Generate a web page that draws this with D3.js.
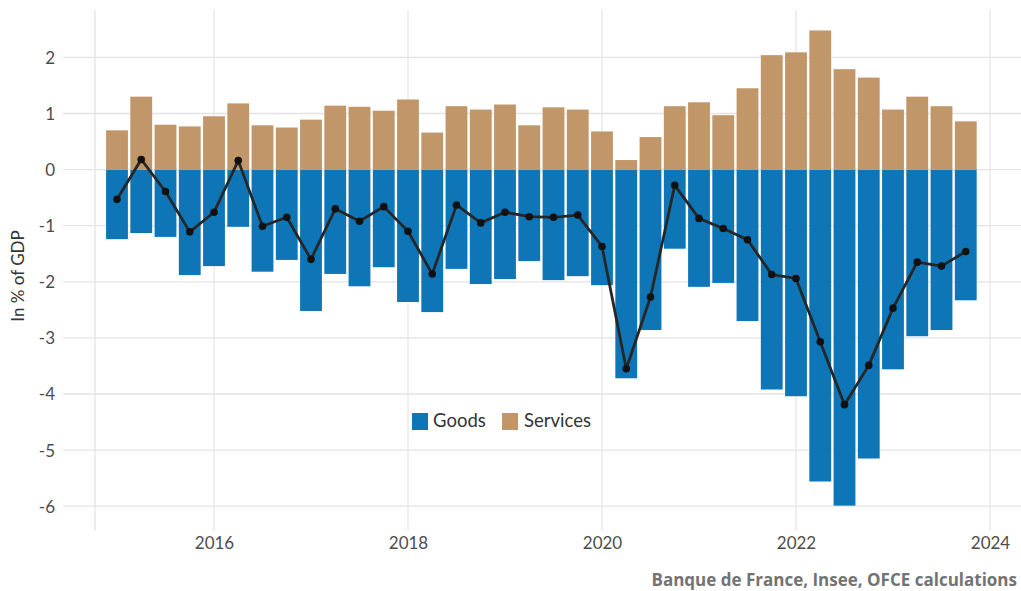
<!DOCTYPE html>
<html>
<head>
<meta charset="utf-8">
<script src="https://cdn.jsdelivr.net/npm/d3@7"></script>
<style>
  html, body { margin: 0; padding: 0; background: #fff; }
  svg { display: block; }
</style>
</head>
<body>
<svg id="chart" width="1021" height="591"></svg>
<script>
// Quarters 2015Q1 .. 2023Q4
const startYear = 2015;
const goods = [-1.24,-1.13,-1.20,-1.88,-1.72,-1.02,-1.82,-1.61,-2.52,-1.86,-2.08,-1.74,
               -2.36,-2.54,-1.77,-2.04,-1.95,-1.63,-1.97,-1.90,-2.06,-3.72,-2.86,-1.41,
               -2.09,-2.02,-2.70,-3.92,-4.04,-5.56,-5.99,-5.15,-3.56,-2.97,-2.86,-2.33];
const services = [0.70,1.30,0.80,0.77,0.95,1.18,0.79,0.75,0.89,1.14,1.12,1.05,
                  1.25,0.66,1.13,1.07,1.16,0.79,1.11,1.07,0.68,0.17,0.58,1.13,
                  1.20,0.97,1.45,2.04,2.09,2.48,1.79,1.64,1.07,1.30,1.13,0.86];
const balance = [-0.53,0.18,-0.39,-1.11,-0.76,0.16,-1.01,-0.85,-1.60,-0.70,-0.92,-0.66,
                 -1.10,-1.86,-0.63,-0.95,-0.76,-0.84,-0.85,-0.81,-1.37,-3.55,-2.27,-0.28,
                 -0.87,-1.05,-1.25,-1.87,-1.94,-3.07,-4.19,-3.49,-2.47,-1.65,-1.72,-1.46];
const xTicks = [2016, 2018, 2020, 2022, 2024];
const yTicks = [-6, -5, -4, -3, -2, -1, 0, 1, 2];
const seriesNames = ["Goods", "Services"];
const seriesColors = ["#0e76b7", "#c19669"];

const times = goods.map((_, i) => startYear + i / 4);

const svg = d3.select("#chart");
const x = d3.scaleLinear().domain([2016, 2024]).range([214, 990]);
const y = d3.scaleLinear().domain([-6, 2]).range([506.2, 57.4]);
const barW = (x(2016.25) - x(2016)) * 0.9;

const panelTop = 10, panelBottom = 531, panelLeft = 95, panelRight = 1021;
const gridColor = "#e3e3e3";

// horizontal grid
svg.append("g").selectAll("line").data(yTicks).join("line")
  .attr("x1", 63).attr("x2", panelRight)
  .attr("y1", d => y(d)).attr("y2", d => y(d))
  .attr("stroke", gridColor).attr("stroke-width", 1.3);

// vertical grid
svg.append("g").selectAll("line").data(xTicks).join("line")
  .attr("x1", d => x(d)).attr("x2", d => x(d))
  .attr("y1", panelTop).attr("y2", panelBottom)
  .attr("stroke", "#e8e8e8").attr("stroke-width", 1.4);
svg.append("line")
  .attr("x1", panelLeft).attr("x2", panelLeft)
  .attr("y1", panelTop).attr("y2", panelBottom)
  .attr("stroke", gridColor).attr("stroke-width", 1.3);

// bars
svg.append("g").selectAll("rect").data(goods).join("rect")
  .attr("x", (d, i) => x(times[i]) - barW / 2)
  .attr("width", barW)
  .attr("y", d => y(0))
  .attr("height", d => y(d) - y(0))
  .attr("fill", seriesColors[0]);
svg.append("g").selectAll("rect").data(services).join("rect")
  .attr("x", (d, i) => x(times[i]) - barW / 2)
  .attr("width", barW)
  .attr("y", d => y(d))
  .attr("height", d => y(0) - y(d))
  .attr("fill", seriesColors[1]);

// balance line
const line = d3.line().x((d, i) => x(times[i])).y(d => y(d));
svg.append("path").datum(balance)
  .attr("d", line)
  .attr("fill", "none")
  .attr("stroke", "#262626")
  .attr("stroke-width", 2.8)
  .attr("stroke-linejoin", "round");
svg.append("g").selectAll("circle").data(balance).join("circle")
  .attr("cx", (d, i) => x(times[i]))
  .attr("cy", d => y(d))
  .attr("r", 3.8)
  .attr("fill", "#111");

// y axis labels
const yAxis = d3.axisLeft(y).tickValues(yTicks).tickSize(0).tickPadding(0)
  .tickFormat(d => d < 0 ? "-" + Math.abs(d) : String(d));
const gy = svg.append("g").attr("transform", "translate(55,0)").call(yAxis);
gy.select(".domain").remove();
gy.selectAll("text")
  .attr("font-family", "Lato, sans-serif").attr("font-size", 17)
  .attr("fill", "#4d4d4d").attr("dy", "0.35em");

// x axis labels
const xAxis = d3.axisBottom(x).tickValues(xTicks).tickSize(0).tickPadding(0)
  .tickFormat(d3.format("d"));
const gx = svg.append("g").attr("transform", "translate(0,537)").call(xAxis);
gx.select(".domain").remove();
gx.selectAll("text")
  .attr("font-family", "Lato, sans-serif").attr("font-size", 17)
  .attr("fill", "#4d4d4d").attr("dy", "0.71em");

// y title
svg.append("text")
  .attr("transform", "translate(24,276) rotate(-90)")
  .attr("text-anchor", "middle")
  .attr("font-family", "Lato, sans-serif").attr("font-size", 17)
  .attr("fill", "#333")
  .text("In % of GDP");

// legend
const legend = svg.append("g");
const legItems = [{x: 412, tx: 433}, {x: 502, tx: 524}];
seriesNames.forEach((name, i) => {
  legend.append("rect")
    .attr("x", legItems[i].x).attr("y", 413)
    .attr("width", 16).attr("height", 17)
    .attr("fill", seriesColors[i]);
  legend.append("text")
    .attr("x", legItems[i].tx).attr("y", 427)
    .attr("font-family", "Lato, sans-serif").attr("font-size", 18.5)
    .attr("fill", "#333")
    .text(name);
});

// caption
svg.append("text")
  .attr("x", 1017).attr("y", 586)
  .attr("text-anchor", "end")
  .attr("font-family", "'Open Sans', sans-serif").attr("font-size", 17)
  .attr("font-weight", "bold")
  .attr("fill", "#737373")
  .text("Banque de France, Insee, OFCE calculations");
</script>
</body>
</html>
